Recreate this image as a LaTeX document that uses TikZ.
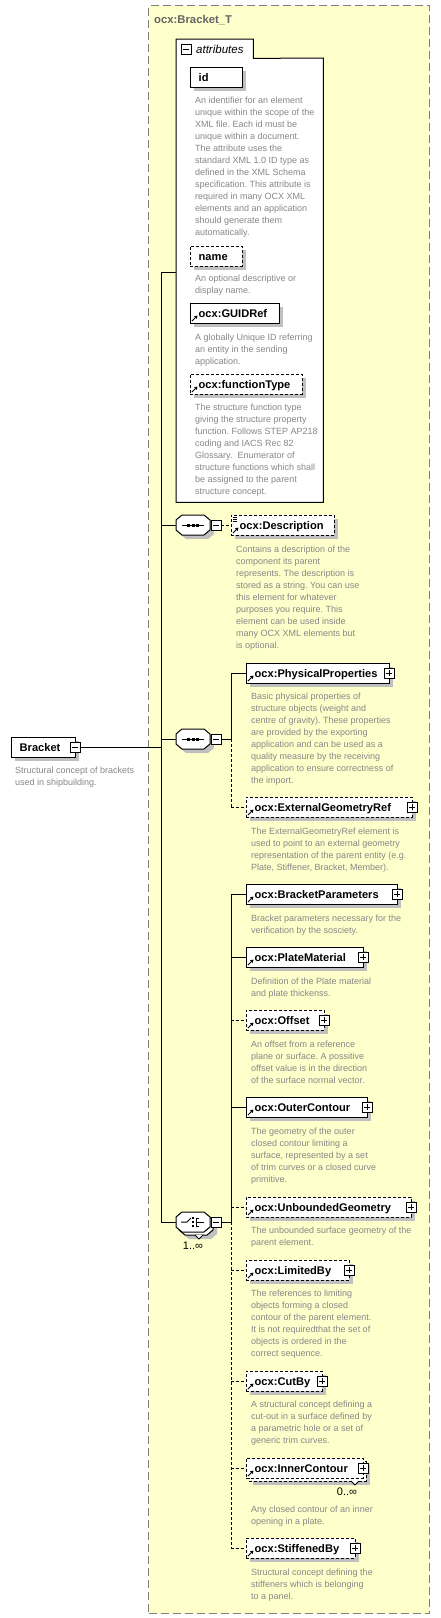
\documentclass[tikz,border=0pt]{standalone}
\usepackage{fontspec}
\setmainfont{Liberation Sans}
\frenchspacing
\usetikzlibrary{arrows.meta}
\definecolor{bgyellow}{RGB}{255,255,204}
\definecolor{framegray}{RGB}{128,128,128}
\definecolor{shadowc}{RGB}{192,192,192}
\definecolor{descgray}{RGB}{135,135,135}
\definecolor{titlegray}{RGB}{100,100,100}
\tikzset{
 ebox/.style={draw=black, fill=white, line width=1pt, inner sep=0pt, outer sep=0pt},
 dsh/.style={dash pattern=on 3pt off 2pt},
 lbl/.style={font=\fontsize{11.1}{13}\selectfont\bfseries, inner sep=0pt, anchor=west, text height=9pt, text depth=1pt},
 desc/.style={font=\fontsize{9}{12}\selectfont, text=descgray, align=left, inner sep=0pt, anchor=north west},
 conn/.style={line width=1pt},
 sqbox/.style={draw=black, fill=white, line width=1pt, minimum size=10pt, inner sep=0pt, outer sep=0pt},
 mult/.style={font=\fontsize{11}{13}\selectfont, inner sep=0pt},
}
% element box: name, x1, y1, x2, y2, style, label
\newcommand\xel[7]{%
  \fill[shadowc] (#2+4,#3+4) rectangle (#4+4,#5+4);
  \node[ebox,#6,minimum width={#4-#2},minimum height={#5-#3},anchor=north west] (#1) at (#2,#3) {};
  \node[lbl] (#1-l) at ([xshift=8.5pt]#1.west) {#7};
}
\newcommand\refarrow[1]{%
  \draw[line width=1pt,-{Triangle[length=3pt,width=3.5pt]}] ([shift={(2pt,2pt)}]#1.south west) -- ([shift={(7.5pt,7.5pt)}]#1.south west);}
\newcommand\plusb[1]{%
  \node[sqbox] (#1-p) at (#1.east) {};
  \draw[line width=1pt] ([xshift=-3pt]#1-p.center) -- ([xshift=3pt]#1-p.center)
    ([yshift=-3pt]#1-p.center) -- ([yshift=3pt]#1-p.center);}
\newcommand\minusb[2]{%
  \node[sqbox] (#1) at (#2) {};
  \draw[line width=1pt] ([xshift=-3pt]#1.center) -- ([xshift=3pt]#1.center);}
\newcommand\octa[3]{%
  \draw[#3] (#1-11,#2-10) -- (#1+11,#2-10) -- (#1+17,#2-5) -- (#1+17,#2+5) -- (#1+11,#2+10) -- (#1-11,#2+10) -- (#1-17,#2+5) -- (#1-17,#2-5) -- cycle;}
\newcommand\seqsym[3]{%
  \octa{#2+4}{#3+4}{fill=shadowc,draw=none}
  \octa{#2}{#3}{fill=white,draw=black,line width=1pt}
  \node[inner sep=0pt, minimum width=34pt, minimum height=20pt] (#1) at (#2,#3) {};
  \draw[line width=1pt] (#2-11,#3) -- (#2+11,#3);
  \fill (#2-6,#3-1.5) rectangle ++(3,3);
  \fill (#2-1.5,#3-1.5) rectangle ++(3,3);
  \fill (#2+3,#3-1.5) rectangle ++(3,3);
  \minusb{#1-m}{#2+23,#3}}
\begin{document}
\begin{tikzpicture}[x=1pt,y=-1pt]
\useasboundingbox (0,0) rectangle (440,1618);
\fill[white] (0,0) rectangle (440,1618);
% complex type frame
\node[draw=framegray, fill=bgyellow, line width=1pt, dash pattern=on 8pt off 4pt, minimum width=281pt, minimum height=1608pt, anchor=north west, inner sep=0pt] (frame) at (148,5) {};
\node[anchor=west, font=\fontsize{11.3}{13}\selectfont\bfseries, text=titlegray, inner sep=0pt] (title) at (154,20) {ocx:Bracket\_T};
% attributes group
\node[inner sep=0pt, minimum width=147pt, minimum height=444pt, anchor=north west] (attr) at (176,58) {};
\node[inner sep=0pt, minimum width=77pt, minimum height=19pt, anchor=north west] (attrtab) at (176,39) {};
\draw[line width=1pt, fill=white] (attrtab.north west) -- (attrtab.north east) -- (attrtab.south east) -- (attr.north east) -- (attr.south east) -- (attr.south west) -- cycle;
\minusb{attrm}{186,49}
\node[font=\fontsize{11.5}{13}\selectfont\itshape, anchor=west, inner sep=0pt] (attrl) at (196,49) {attributes};
% attributes
\xel{id}{190}{67}{242}{87}{}{id}
\node[desc] (id-d) at (195,94.6) {\strut An identifier for an element\\unique within the scope of the\\XML file. Each id must be\\unique within a document.\\The attribute uses the\\standard XML 1.0 ID type as\\defined in the XML Schema\\specification. This attribute is\\required in many OCX XML\\elements and an application\\should generate them\\automatically.};
\xel{nm}{190}{246}{242}{266}{dsh}{name}
\node[desc] (nm-d) at (195,272.6) {\strut An optional descriptive or\\display name.};
\xel{guid}{190}{303}{279}{323}{}{ocx:GUIDRef}
\refarrow{guid}
\node[desc] (guid-d) at (195,331.6) {\strut A globally Unique ID referring\\an entity in the sending\\application.};
\xel{ft}{190}{374}{302}{394}{dsh}{ocx:functionType}
\refarrow{ft}
\node[desc] (ft-d) at (195,401.6) {\strut The structure function type\\giving the structure property\\function. Follows STEP AP218\\coding and IACS Rec 82\\Glossary.\ \ Enumerator of\\structure functions which shall\\be assigned to the parent\\structure concept.};
% root element
\xel{br}{11}{737}{75}{757}{}{Bracket}
\minusb{brm}{75,747}
\node[desc] (br-d) at (15,764.6) {\strut Structural concept of brackets\\used in shipbuilding.};
% trunk
\coordinate (tT) at (161,272);
\coordinate (tB) at (161,1222);
\draw[conn] (tT) -- (tB);
\draw[conn] (brm.east) -- (brm.east -| tT);
\draw[conn] (tT) -- (tT -| attr.west);
% sequence 1
\seqsym{sq1}{193}{525}
\draw[conn] (sq1.west -| tT) -- (sq1.west);
\xel{dsc}{231}{515}{334}{535}{dsh}{ocx:Description}
\refarrow{dsc}
\draw[line width=0.8pt] (232.5,517) -- (237,517) (232.5,519.2) -- (237,519.2) (232.5,521.4) -- (237,521.4);
\draw[conn,dsh] (sq1-m.east) -- (dsc.west);
\node[desc] (dsc-d) at (236,543.6) {\strut Contains a description of the\\component its parent\\represents. The description is\\stored as a string. You can use\\this element for whatever\\purposes you require. This\\element can be used inside\\many OCX XML elements but\\is optional.};
% sequence 2
\seqsym{sq2}{193}{739}
\draw[conn] (sq2.west -| tT) -- (sq2.west);
\coordinate (bT) at (231,673);
\coordinate (bM) at (231,739);
\coordinate (bB) at (231,807);
\draw[conn] (sq2-m.east) -- (bM);
\draw[conn] (bT) -- (bM);
\draw[conn,dsh] (bM) -- (bB);
\xel{pp}{246}{663}{389}{683}{}{ocx:PhysicalProperties}
\refarrow{pp}\plusb{pp}
\draw[conn] (bT) -- (bT -| pp.west);
\node[desc] (pp-d) at (251,690.6) {\strut Basic physical properties of\\structure objects (weight and\\centre of gravity). These properties\\are provided by the exporting\\application and can be used as a\\quality measure by the receiving\\application to ensure correctness of\\the import.};
\xel{egr}{246}{797}{412}{817}{dsh}{ocx:ExternalGeometryRef}
\refarrow{egr}\plusb{egr}
\draw[conn,dsh] (bB) -- (bB -| egr.west);
\node[desc] (egr-d) at (251,825.6) {\strut The ExternalGeometryRef element is\\used to point to an external geometry\\representation of the parent entity (e.g.\\Plate, Stiffener, Bracket, Member).};
% choice
\octa{200}{1229}{fill=shadowc,draw=none}
\octa{196}{1225}{fill=white,draw=black,line width=1pt}
\draw[line width=1pt, fill=white] (195,1235) -- (199,1239) -- (203,1235);
\octa{193}{1222}{fill=white,draw=black,line width=1pt}
\node[inner sep=0pt, minimum width=34pt, minimum height=20pt] (ch) at (193,1222) {};
\draw[line width=1pt] (181,1222) -- (187,1222) -- (191,1218);
\fill (192,1217) rectangle ++(2,2);
\fill (192,1221) rectangle ++(2,2);
\fill (192,1225) rectangle ++(2,2);
\draw[line width=1pt] (199,1218) -- (196,1218) -- (196,1226) -- (199,1226) (196,1222) -- (204,1222);
\minusb{chm}{216,1222}
\node[mult] (chmult) at (193,1246) {1..∞};
\draw[conn] (tB) -- (ch.west);
\coordinate (cT) at (231,894);
\coordinate (cM) at (231,1222);
\coordinate (cB) at (231,1548);
\draw[conn] (chm.east) -- (cM);
\draw[conn] (cT) -- (cM);
\draw[conn,dsh] (cM) -- (cB);
% choice children
\xel{bp}{246}{884}{397}{904}{}{ocx:BracketParameters}
\refarrow{bp}\plusb{bp}
\draw[conn] (bp.west -| cT) -- (bp.west);
\node[desc] (bp-d) at (251,912.6) {\strut Bracket parameters necessary for the\\verification by the sosciety.};
\xel{pm}{246}{947}{363}{967}{}{ocx:PlateMaterial}
\refarrow{pm}\plusb{pm}
\draw[conn] (pm.west -| cT) -- (pm.west);
\node[desc] (pm-d) at (251,975.6) {\strut Definition of the Plate material\\and plate thickenss.};
\xel{off}{246}{1010}{324}{1030}{dsh}{ocx:Offset}
\refarrow{off}\plusb{off}
\draw[conn,dsh] (off.west -| cT) -- (off.west);
\node[desc] (off-d) at (251,1038.6) {\strut An offset from a reference\\plane or surface. A possitive\\offset value is in the direction\\of the surface normal vector.};
\xel{oc}{246}{1097}{367}{1117}{}{ocx:OuterContour}
\refarrow{oc}\plusb{oc}
\draw[conn] (oc.west -| cT) -- (oc.west);
\node[desc] (oc-d) at (251,1125.6) {\strut The geometry of the outer\\closed contour limiting a\\surface, represented by a set\\of trim curves or a closed curve\\primitive.};
\xel{ug}{246}{1197}{411}{1217}{dsh}{ocx:UnboundedGeometry}
\refarrow{ug}\plusb{ug}
\draw[conn,dsh] (ug.west -| cT) -- (ug.west);
\node[desc] (ug-d) at (251,1224.6) {\strut The unbounded surface geometry of the\\parent element.};
\xel{lb}{246}{1260}{349}{1280}{dsh}{ocx:LimitedBy}
\refarrow{lb}\plusb{lb}
\draw[conn,dsh] (lb.west -| cT) -- (lb.west);
\node[desc] (lb-d) at (251,1287.6) {\strut The references to limiting\\objects forming a closed\\contour of the parent element.\\It is not requiredthat the set of\\objects is ordered in the\\correct sequence.};
\xel{cb}{246}{1371}{322}{1391}{dsh}{ocx:CutBy}
\refarrow{cb}\plusb{cb}
\draw[conn,dsh] (cb.west -| cT) -- (cb.west);
\node[desc] (cb-d) at (251,1398.6) {\strut A structural concept defining a\\cut-out in a surface defined by\\a parametric hole or a set of\\generic trim curves.};
% inner contour (stacked)
\fill[shadowc] (253,1465) rectangle (370,1485);
\draw[line width=1pt, dsh, fill=white] (249,1461) rectangle (366,1481);
\draw[line width=1pt, fill=white] (351,1481) -- (355,1485) -- (359,1481);
\node[ebox,dsh,minimum width=117pt,minimum height=20pt,anchor=north west] (ic) at (246,1458) {};
\node[lbl] (ic-l) at ([xshift=8.5pt]ic.west) {ocx:InnerContour};
\refarrow{ic}\plusb{ic}
\node[mult] (icmult) at (347,1492) {0..∞};
\draw[conn,dsh] (ic.west -| cT) -- (ic.west);
\node[desc] (ic-d) at (251,1503.6) {\strut Any closed contour of an inner\\opening in a plate.};
\xel{sb}{246}{1538}{355}{1558}{dsh}{ocx:StiffenedBy}
\refarrow{sb}\plusb{sb}
\draw[conn,dsh] (cB) -- (sb.west);
\node[desc] (sb-d) at (251,1566.6) {\strut Structural concept defining the\\stiffeners which is belonging\\to a panel.};
\end{tikzpicture}
\end{document}
